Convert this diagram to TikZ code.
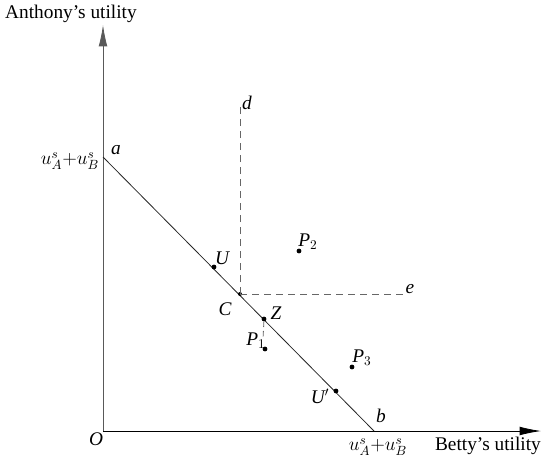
\documentclass[tikz,border=0pt]{standalone}
\usepackage{fontspec}
\setmainfont{Liberation Serif}
\usetikzlibrary{arrows.meta}
\begin{document}
\begin{tikzpicture}[x=0.75pt, y=-0.75pt, every node/.style={font=\fontsize{14.5}{16}\selectfont, inner sep=1pt}]
\tikzset{axis/.style={line width=0.6pt, -{Latex[length=16pt,width=6.5pt]}},
  dot/.style={circle, fill=black, inner sep=0pt, minimum size=3.6pt},
  guide/.style={dashed, gray!80!black, line width=0.6pt, dash pattern=on 5pt off 4pt}}
\useasboundingbox (0,0) rectangle (543,462);
% axes
\coordinate (O) at (103,431);
\coordinate (ytip) at (103,25);
\coordinate (xtip) at (541,431);
\draw[axis, gray!70!black] (O) -- (ytip);
\draw[axis] (O) -- (xtip);
\node (ylab) at (71,14) {Anthony's utility};
\node (xlab) at (488,446) {Betty's utility};
\node (olab) at (96,439) {\itshape O};
% frontier a--b
\coordinate (a) at (103,157);
\coordinate (b) at (374,431);
\draw[line width=0.6pt, black!85] (a) -- (b);
\node (alab) at (116,150) {\itshape a};
\node (blab) at (381,416) {\itshape b};
\node (ulft) at (70,161) {$u^s_A{+}u^s_B$};
\node (ubot) at (378,447) {$u^s_A{+}u^s_B$};
% dashed region from C
\node[dot, minimum size=3pt] (C) at (240,294) {};
\coordinate (d) at (240,105);
\coordinate (e) at (403,295);
\draw[guide] (C.center) -- (d);
\draw[guide] (C.center) -- (e |- C);
\node (dlab) at (247,103) {\itshape d};
\node (elab) at (410,289) {\itshape e};
\node (clab) at (225,309) {\itshape C};
% points
\node[dot] (U) at (214,267) {};
\node[dot] (Z) at (264,319) {};
\node[dot] (P1) at (265,349) {};
\node[dot] (P2) at (299,251) {};
\node[dot] (P3) at (352,367) {};
\node[dot] (U') at (336,391) {};
\draw[guide, dash pattern=on 4pt off 3pt] (Z) -- (263,339);
\node (Ulab) at (222,258) {\itshape U};
\node (Zlab) at (276,313) {\itshape Z};
\node (P1lab) at (256,341) {{\itshape P}$_1$};
\node (P2lab) at (308,242) {{\itshape P}$_2$};
\node (P3lab) at (362,358) {{\itshape P}$_3$};
\node (U'lab) at (320,396) {{\itshape U}$'$};
\end{tikzpicture}
\end{document}
